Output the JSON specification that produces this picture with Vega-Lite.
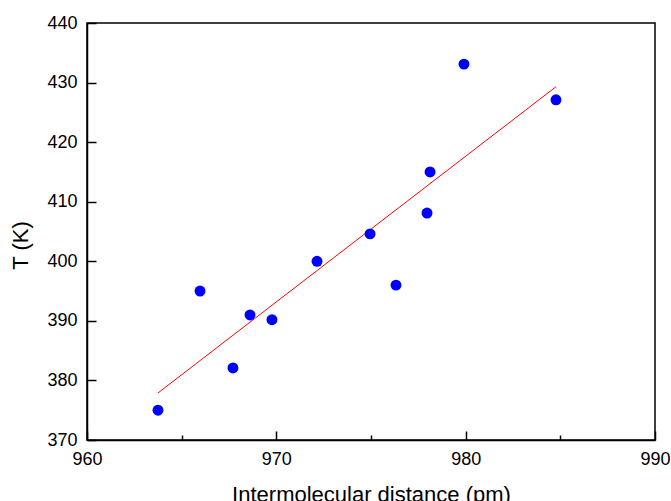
{
  "$schema": "https://vega.github.io/schema/vega-lite/v6.json",
  "width": 568,
  "height": 417,
  "autosize": "none",
  "padding": {"left": 87, "top": 23, "right": 16, "bottom": 61},
  "background": "white",
  "config": {
    "view": {"stroke": "black", "strokeWidth": 1.5},
    "font": "Liberation Sans",
    "axis": {
      "grid": false,
      "domainColor": "black",
      "domainWidth": 1.5,
      "tickColor": "black",
      "tickWidth": 1.5,
      "labelFont": "Liberation Sans",
      "titleFont": "Liberation Sans",
      "labelFontSize": 18,
      "titleFontSize": 22,
      "titleFontWeight": "normal",
      "labelColor": "black",
      "titleColor": "black",
      "labelFlush": false,
      "labelOverlap": false
    }
  },
  "datasets": {
    "pts": [
      {"d": 963.75, "T": 375.0},
      {"d": 965.97, "T": 395.0},
      {"d": 967.71, "T": 382.1},
      {"d": 968.61, "T": 391.0},
      {"d": 969.77, "T": 390.2},
      {"d": 972.15, "T": 400.0},
      {"d": 974.95, "T": 404.6},
      {"d": 976.32, "T": 396.0},
      {"d": 977.96, "T": 408.1},
      {"d": 978.12, "T": 415.0},
      {"d": 979.91, "T": 433.1},
      {"d": 984.77, "T": 427.1}
    ],
    "fit": [
      {"d": 963.75, "T": 377.9},
      {"d": 984.77, "T": 429.3}
    ]
  },
  "layer": [
    {
      "data": {"name": "fit"},
      "mark": {"type": "line", "color": "#FF0000", "strokeWidth": 1},
      "encoding": {
        "x": {
          "field": "d", "type": "quantitative",
          "scale": {"domain": [960, 990], "nice": false, "zero": false},
          "axis": {
            "title": "Intermolecular distance (pm)",
            "values": [960, 965, 970, 975, 980, 985, 990],
            "labelExpr": "datum.value % 10 === 0 ? datum.label : ''",
            "tickSize": {"condition": {"test": "datum.value % 10 === 0", "value": -9}, "value": -5},
            "labelPadding": 19,
            "titlePadding": 12
          }
        },
        "y": {
          "field": "T", "type": "quantitative",
          "scale": {"domain": [370, 440], "nice": false, "zero": false},
          "axis": {
            "title": "T (K)",
            "values": [370, 375, 380, 385, 390, 395, 400, 405, 410, 415, 420, 425, 430, 435, 440],
            "labelExpr": "datum.value % 10 === 0 ? datum.label : ''",
            "tickSize": {"condition": {"test": "datum.value % 10 === 0", "value": -9}, "value": -5},
            "labelPadding": 19,
            "labelAlign": "right",
            "labelBaseline": "middle",
            "titleX": -55,
            "titleY": 222,
            "titleAlign": "center",
            "titleBaseline": "bottom",
            "titleAngle": -90
          }
        }
      }
    },
    {
      "data": {"name": "pts"},
      "mark": {"type": "circle", "color": "#0000FF", "opacity": 1, "size": 120},
      "encoding": {
        "x": {"field": "d", "type": "quantitative"},
        "y": {"field": "T", "type": "quantitative"}
      }
    }
  ]
}
